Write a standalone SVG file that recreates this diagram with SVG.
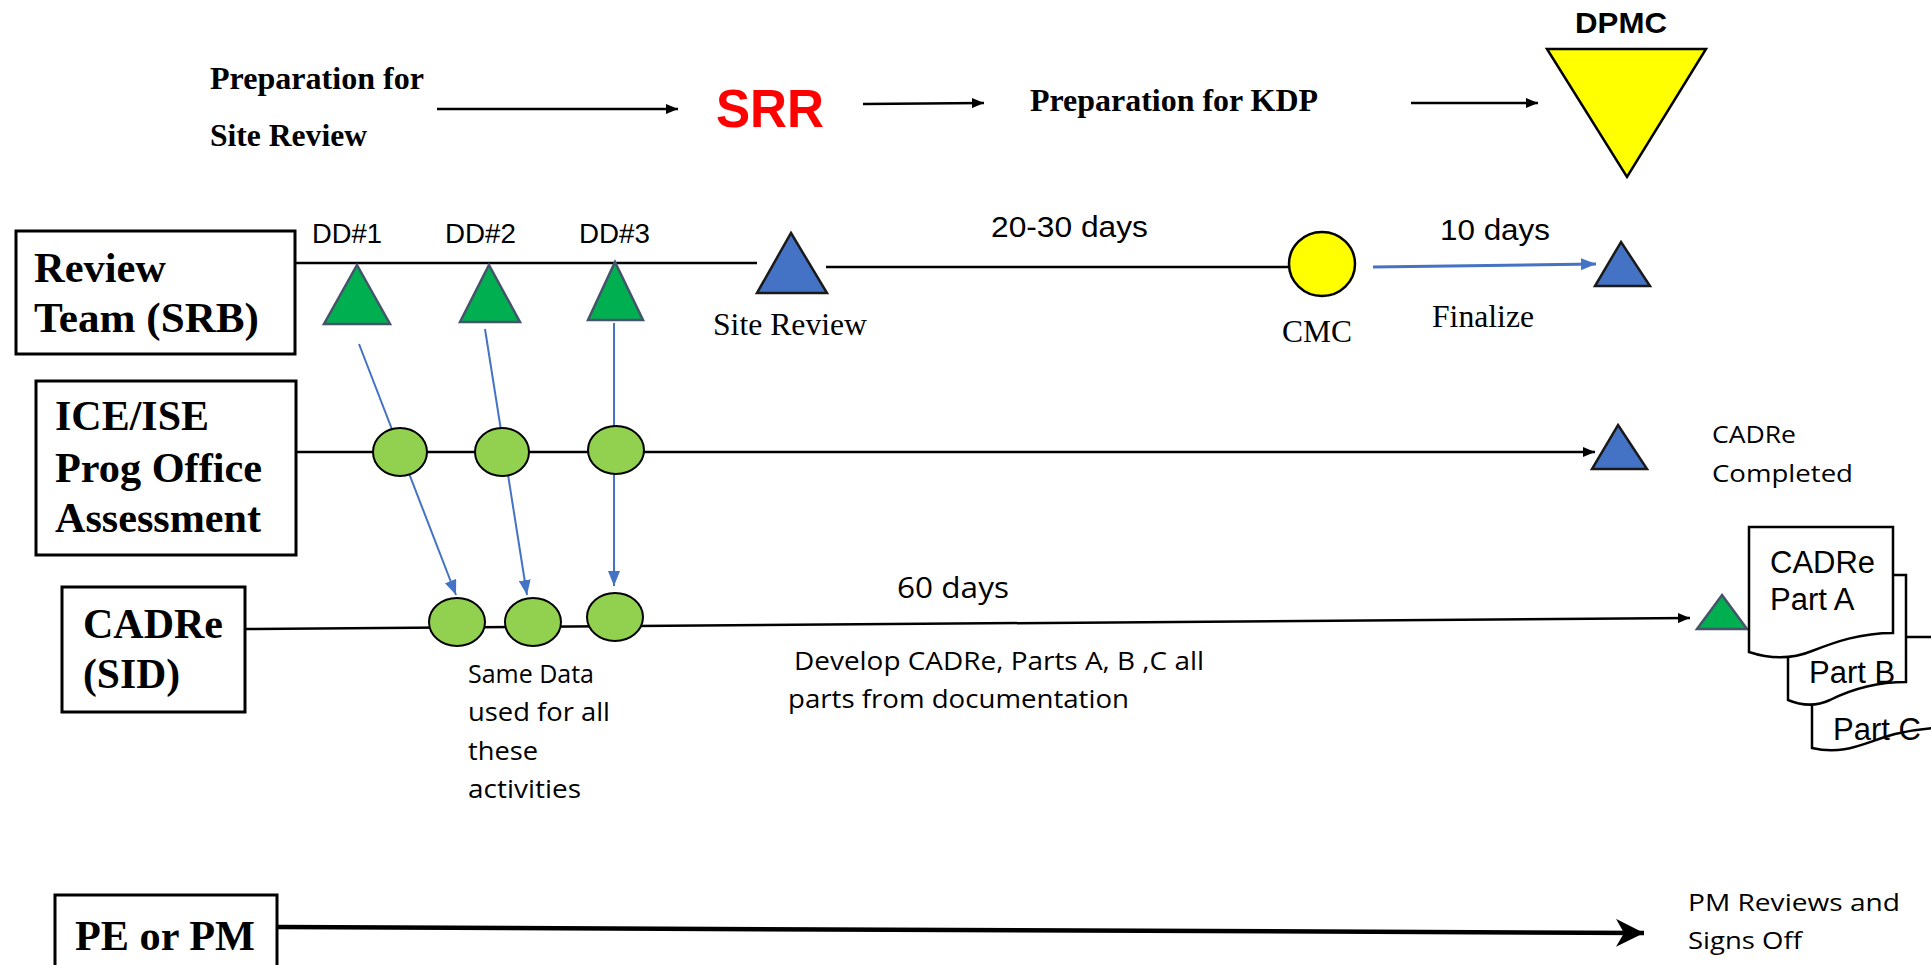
<svg xmlns="http://www.w3.org/2000/svg" width="1931" height="965" viewBox="0 0 1931 965">
<style>
.sb{font-family:"Liberation Serif",serif;font-weight:bold;fill:#000}
.sr{font-family:"Liberation Serif",serif;fill:#000}
.ss{font-family:"Liberation Sans",Arial,sans-serif;fill:#000}
.sc{font-family:"Open Sans","Noto Sans",sans-serif;fill:#000}
.box{fill:#fff;stroke:#000;stroke-width:3}
.ln{fill:none;stroke:#000;stroke-width:2.5}
.bl{fill:none;stroke:#4472C4;stroke-width:2}
.gc{fill:#92D050;stroke:#000;stroke-width:2}
.gt{fill:#00B050;stroke:#44546A;stroke-width:2.5}
.bt{fill:#4472C4;stroke:#1a1a1a;stroke-width:2.5}
.doc{fill:#fff;stroke:#000;stroke-width:2.5}
</style>
<defs>
<marker id="ak" markerUnits="userSpaceOnUse" markerWidth="12" markerHeight="10" refX="12" refY="5" orient="auto"><path d="M0,0 L12,5 L0,10 z" fill="#000"/></marker>
<marker id="ab" markerUnits="userSpaceOnUse" markerWidth="15" markerHeight="12" refX="15" refY="6" orient="auto"><path d="M0,0 L15,6 L0,12 z" fill="#4472C4"/></marker>
<marker id="as" markerUnits="userSpaceOnUse" markerWidth="30" markerHeight="28" refX="28" refY="14" orient="auto"><path d="M0,0 L28,14 L0,28 L8,14 z" fill="#000"/></marker>
</defs>

<g id="connectors">
<line class="ln" x1="437" y1="109" x2="678" y2="109" marker-end="url(#ak)"/>
<line class="ln" x1="863" y1="104" x2="984" y2="103" marker-end="url(#ak)"/>
<line class="ln" x1="1411" y1="103" x2="1538" y2="103" marker-end="url(#ak)"/>
<line class="ln" x1="295" y1="263" x2="757" y2="263"/>
<line class="ln" x1="826" y1="267" x2="1290" y2="267"/>
<line x1="1373" y1="267" x2="1596" y2="264" stroke="#4472C4" stroke-width="3" marker-end="url(#ab)"/>
<line class="ln" x1="296" y1="452" x2="1595" y2="452" stroke-width="3" marker-end="url(#ak)"/>
<line class="ln" x1="245" y1="629" x2="1690" y2="618" stroke-width="3" marker-end="url(#ak)"/>
<line x1="278" y1="927" x2="1644" y2="933" stroke="#000" stroke-width="4.5" marker-end="url(#as)"/>
<line class="bl" x1="359" y1="344" x2="456" y2="595" marker-end="url(#ab)"/>
<line class="bl" x1="485" y1="329" x2="527" y2="595" marker-end="url(#ab)"/>
<line class="bl" x1="614" y1="323" x2="614" y2="586" marker-end="url(#ab)"/>
</g>

<g id="top-flow">
<text class="sb" x="210" y="89" font-size="32" textLength="214" lengthAdjust="spacingAndGlyphs">Preparation for</text>
<text class="sb" x="210" y="146" font-size="32" textLength="157" lengthAdjust="spacingAndGlyphs">Site Review</text>
<text x="716" y="127" font-family="Liberation Sans,Arial,sans-serif" font-weight="bold" font-size="54" fill="#FF0000" textLength="108" lengthAdjust="spacingAndGlyphs">SRR</text>
<text class="sb" x="1030" y="111" font-size="31" textLength="288" lengthAdjust="spacingAndGlyphs">Preparation for KDP</text>
</g>

<g id="dpmc">
<polygon points="1547,49 1706,49 1627,177" fill="#FFFF00" stroke="#000" stroke-width="2.5"/>
<text class="ss" x="1575" y="33" font-size="30" font-weight="bold" textLength="92" lengthAdjust="spacingAndGlyphs">DPMC</text>
</g>

<g id="review-team">
<rect class="box" x="16" y="231" width="279" height="123"/>
<text class="sb" x="34" y="282" font-size="42" textLength="132" lengthAdjust="spacingAndGlyphs">Review</text>
<text class="sb" x="34" y="332" font-size="42" textLength="225" lengthAdjust="spacingAndGlyphs">Team (SRB)</text>
</g>

<g id="dd1">
<polygon class="gt" points="357,265 390,324 324,324"/>
<text class="ss" x="312" y="243" font-size="27" textLength="70" lengthAdjust="spacingAndGlyphs">DD#1</text>
</g>
<g id="dd2">
<polygon class="gt" points="489,265 520,322 460,322"/>
<text class="ss" x="445" y="243" font-size="27" textLength="71" lengthAdjust="spacingAndGlyphs">DD#2</text>
</g>
<g id="dd3">
<polygon class="gt" points="615,262 643,320 588,320"/>
<text class="ss" x="579" y="243" font-size="27" textLength="71" lengthAdjust="spacingAndGlyphs">DD#3</text>
</g>

<g id="site-review">
<polygon class="bt" points="791,233 827,293 757,293"/>
<text class="sr" x="713" y="335" font-size="31" textLength="154" lengthAdjust="spacingAndGlyphs">Site Review</text>
</g>

<text class="ss" x="991" y="237" font-size="29" textLength="157" lengthAdjust="spacingAndGlyphs">20-30 days</text>

<g id="cmc">
<ellipse cx="1322" cy="264" rx="33" ry="32" fill="#FFFF00" stroke="#000" stroke-width="2.5"/>
<text class="sr" x="1282" y="342" font-size="31" textLength="70" lengthAdjust="spacingAndGlyphs">CMC</text>
</g>

<text class="ss" x="1440" y="240" font-size="29" textLength="110" lengthAdjust="spacingAndGlyphs">10 days</text>
<text class="sr" x="1432" y="327" font-size="31" textLength="102" lengthAdjust="spacingAndGlyphs">Finalize</text>

<g id="finalize-end">
<polygon class="bt" points="1621,242 1650,286 1595,286"/>
</g>

<g id="ice-ise">
<rect class="box" x="36" y="381" width="260" height="174"/>
<text class="sb" x="55" y="430" font-size="42" textLength="154" lengthAdjust="spacingAndGlyphs">ICE/ISE</text>
<text class="sb" x="55" y="482" font-size="42" textLength="207" lengthAdjust="spacingAndGlyphs">Prog Office</text>
<text class="sb" x="55" y="532" font-size="42" textLength="206" lengthAdjust="spacingAndGlyphs">Assessment</text>
</g>

<g id="ice-points">
<ellipse class="gc" cx="400" cy="452" rx="27" ry="24"/>
<ellipse class="gc" cx="502" cy="452" rx="27" ry="24"/>
<ellipse class="gc" cx="616" cy="450" rx="28" ry="24"/>
</g>

<g id="cadre-completed">
<polygon class="bt" points="1618,425 1647,469 1592,469"/>
<text class="sc" x="1712" y="443" font-size="24" textLength="84" lengthAdjust="spacingAndGlyphs">CADRe</text>
<text class="sc" x="1712" y="482" font-size="24" textLength="141" lengthAdjust="spacingAndGlyphs">Completed</text>
</g>

<g id="cadre-sid">
<rect class="box" x="62" y="587" width="183" height="125"/>
<text class="sb" x="83" y="638" font-size="42" textLength="140" lengthAdjust="spacingAndGlyphs">CADRe</text>
<text class="sb" x="83" y="688" font-size="42" textLength="97" lengthAdjust="spacingAndGlyphs">(SID)</text>
</g>

<g id="cadre-points">
<ellipse class="gc" cx="457" cy="622" rx="28" ry="24"/>
<ellipse class="gc" cx="533" cy="622" rx="28" ry="24"/>
<ellipse class="gc" cx="615" cy="617" rx="28" ry="24"/>
</g>

<text class="sc" x="897" y="598" font-size="29" textLength="112" lengthAdjust="spacingAndGlyphs">60 days</text>
<g id="same-data-note">
<text class="sc" x="468" y="683" font-size="25" textLength="126" lengthAdjust="spacingAndGlyphs">Same Data</text>
<text class="sc" x="468" y="721" font-size="25" textLength="142" lengthAdjust="spacingAndGlyphs">used for all</text>
<text class="sc" x="468" y="760" font-size="25" textLength="70" lengthAdjust="spacingAndGlyphs">these</text>
<text class="sc" x="468" y="798" font-size="25" textLength="113" lengthAdjust="spacingAndGlyphs">activities</text>
</g>
<g id="develop-note">
<text class="sc" x="794" y="670" font-size="25" textLength="410" lengthAdjust="spacingAndGlyphs">Develop CADRe, Parts A, B ,C all</text>
<text class="sc" x="788" y="708" font-size="25" textLength="341" lengthAdjust="spacingAndGlyphs">parts from documentation</text>
</g>

<g id="cadre-start">
<polygon class="gt" points="1722,595 1747,629 1697,629"/>
</g>

<g id="doc-c">
<path class="doc" d="M1812,637 L1980,637 L1980,728 C1950,726 1925,727 1895,734 C1865,742 1845,756 1812,748 Z"/>
<text class="ss" x="1833" y="740" font-size="31">Part C</text>
</g>
<g id="doc-b">
<path class="doc" d="M1788,575 L1906,575 L1906,682 C1875,682 1850,690 1830,700 C1815,707 1800,705 1788,700 Z"/>
<text class="ss" x="1809" y="683" font-size="31">Part B</text>
</g>
<g id="doc-a">
<path class="doc" d="M1749,527 L1893,527 L1893,633 C1860,633 1835,642 1812,651 C1790,660 1770,659 1749,652 Z"/>
<text class="ss" x="1770" y="573" font-size="31">CADRe</text>
<text class="ss" x="1770" y="610" font-size="31">Part A</text>
</g>

<g id="pe-pm">
<rect class="box" x="55" y="895" width="222" height="90"/>
<text class="sb" x="75" y="950" font-size="42" textLength="180" lengthAdjust="spacingAndGlyphs">PE or PM</text>
</g>
<g id="pm-signoff">
<text class="sc" x="1688" y="911" font-size="24" textLength="212" lengthAdjust="spacingAndGlyphs">PM Reviews and</text>
<text class="sc" x="1688" y="949" font-size="24" textLength="114" lengthAdjust="spacingAndGlyphs">Signs Off</text>
</g>
</svg>
